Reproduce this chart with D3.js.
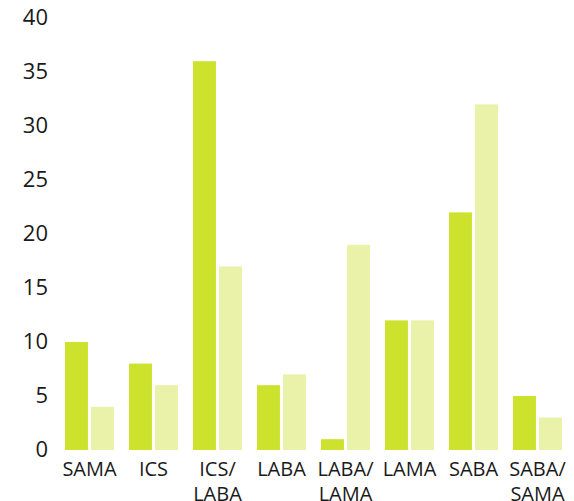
<!DOCTYPE html>
<html>
<head>
<meta charset="utf-8">
<script src="https://cdn.jsdelivr.net/npm/d3@7"></script>
<style>
  body { margin: 0; background: #fff; }
  text { font-family: "Open Sans", sans-serif; fill: #1a1a1a; }
</style>
</head>
<body>
<div class="chart-container"></div>
<script>
const svgWidth = 574;
const svgHeight = 501;

const categories = [["SAMA"], ["ICS"], ["ICS/", "LABA"], ["LABA"], ["LABA/", "LAMA"], ["LAMA"], ["SABA"], ["SABA/", "SAMA"]];
const series1 = [10, 8, 36, 6, 1, 12, 22, 5];
const series2 = [4, 6, 17, 7, 19, 12, 32, 3];
const yTicks = [0, 5, 10, 15, 20, 25, 30, 35, 40];
const colors = ["#cce22d", "#e9f2a8"];

const keys = categories.map(function(c) { return c.join(" "); });
const data = keys.map(function(k, i) { return {key: k, lines: categories[i], values: [series1[i], series2[i]]}; });

const svg = d3.select(".chart-container")
              .append("svg")
              .attr("width", svgWidth)
              .attr("height", svgHeight);

const yScale = d3.scaleLinear()
                 .domain([0, 40])
                 .range([450, 18]);

const xScale = d3.scaleBand()
                 .domain(keys)
                 .range([57.5, 569.5])
                 .paddingInner(0.234)
                 .paddingOuter(0.117);

const xSub = d3.scaleBand()
               .domain([0, 1])
               .range([0, xScale.bandwidth()])
               .paddingInner(0.12);

// y tick labels, no axis line
svg.append("g")
   .selectAll("text")
   .data(yTicks)
   .enter()
   .append("text")
   .attr("x", 48)
   .attr("y", function(d) { return yScale(d); })
   .attr("dy", "0.34em")
   .attr("text-anchor", "end")
   .style("font-size", "22px")
   .text(function(d) { return d; });

const groups = svg.append("g")
   .selectAll("g")
   .data(data)
   .enter()
   .append("g")
   .attr("transform", function(d) { return "translate(" + xScale(d.key) + ",0)"; });

groups.selectAll("rect")
   .data(function(d) { return d.values; })
   .enter()
   .append("rect")
   .attr("x", function(d, i) { return xSub(i); })
   .attr("y", function(d) { return yScale(d); })
   .attr("width", xSub.bandwidth())
   .attr("height", function(d) { return yScale(0) - yScale(d); })
   .style("fill", function(d, i) { return colors[i]; });

// category labels
groups.append("text")
   .attr("x", xScale.bandwidth() / 2)
   .attr("y", 476)
   .attr("text-anchor", "middle")
   .style("font-size", "20px")
   .selectAll("tspan")
   .data(function(d) { return d.lines; })
   .enter()
   .append("tspan")
   .attr("x", xScale.bandwidth() / 2)
   .attr("dy", function(d, i) { return i === 0 ? 0 : 25; })
   .text(function(d) { return d; });
</script>
</body>
</html>
